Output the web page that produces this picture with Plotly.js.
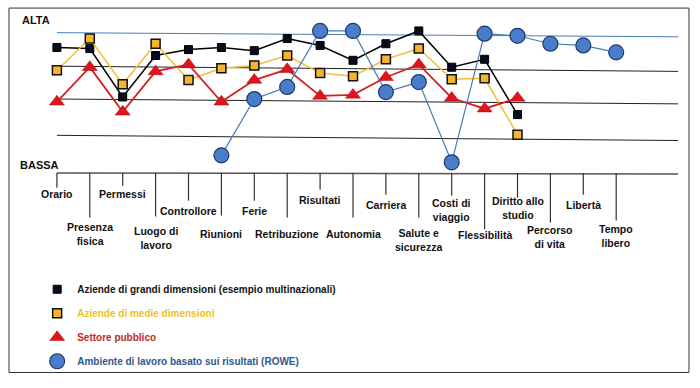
<!DOCTYPE html>
<html>
<head>
<meta charset="utf-8">
<script src="https://cdn.plot.ly/plotly-3.0.1.min.js"></script>
<style>html,body{margin:0;padding:0;background:#fff;}#chart{width:700px;height:388px;}</style>
</head>
<body>
<div id="chart"></div>
<script>
// ---- data ----
const categories = ['Orario','Presenza fisica','Permessi','Luogo di lavoro','Controllore','Riunioni','Ferie','Retribuzione','Risultati','Autonomia','Carriera','Salute e sicurezza','Costi di viaggio','Flessibilità','Diritto allo studio','Percorso di vita','Libertà','Tempo libero'];
const tickLabels = ['Orario','Presenza<br>fisica','Permessi','Luogo di<br>lavoro','Controllore','Riunioni','Ferie','Retribuzione','Risultati','Autonomia','Carriera','Salute e<br>sicurezza','Costi di<br>viaggio','Flessibilità','Diritto allo<br>studio','Percorso<br>di vita','Libertà','Tempo<br>libero'];
const seriesNames = ['Aziende di grandi dimensioni (esempio multinazionali)','Aziende di medie dimensioni','Settore pubblico','Ambiente di lavoro basato sui risultati (ROWE)'];
const grandi  = [3.63,3.60,2.20,3.40,3.57,3.63,3.54,3.89,3.69,3.26,3.74,4.11,3.06,3.29,1.69,null,null,null];
const medie   = [2.97,3.89,2.57,3.74,2.69,3.03,3.11,3.40,2.89,2.80,3.29,3.60,2.71,2.74,1.11,null,null,null];
const pubblico= [2.06,3.06,1.77,2.94,3.14,2.06,2.69,3.00,2.23,2.26,2.77,3.14,2.17,1.86,2.17,null,null,null];
const rowe    = [null,null,null,null,null,0.51,2.14,2.49,4.11,4.11,2.34,2.63,0.31,4.03,3.97,3.74,3.69,3.49];

// ---- style (label / tick drop below axis, px) ----
const labelDrop = [21,61,21,65,38,61,38,61,27,61,32,67,37,62,35,64,32,63];
const tickDrop  = [15,45,13,44,28,43,28,45,17,45,22,45,23,57,25,50,22,48];
const plotH = 161;
const FONT = 'Liberation Sans, Arial, sans-serif';

const styles = [
  {line:{color:'#000000',width:1.5}, marker:{symbol:'square',size:8,color:'#0b0b1e',line:{color:'#000',width:1}}, text:'#111111'},
  {line:{color:'#f0bf38',width:1.5}, marker:{symbol:'square',size:9,color:'#f4b630',line:{color:'#111',width:1.5}}, text:'#eec21c'},
  {line:{color:'#d42020',width:1.8}, marker:{symbol:'triangle-up',size:13,color:'#e0141c',line:{color:'#a01010',width:0.5}}, text:'#c0282a'},
  {line:{color:'#4a78b8',width:1.2}, marker:{symbol:'circle',size:15,color:'#4a7ccc',line:{color:'#1f3a68',width:1.2}}, text:'#2d5a8c'}
];
const allSeries = [grandi, medie, pubblico, rowe];

const traces = [];
allSeries.forEach((ys,k)=>{
  traces.push({type:'scatter',mode:'lines+markers',x:categories,y:ys,line:styles[k].line,marker:styles[k].marker,showlegend:false,hoverinfo:'skip',cliponaxis:false});
});
allSeries.forEach((ys,k)=>{
  traces.push({type:'scatter',mode:'markers',x:[null],y:[null],marker:styles[k].marker,
    name:'<b><span style="color:'+styles[k].text+'">'+seriesNames[k]+'</span></b>',legendgroup:'g'+k,showlegend:true});
});

const shapes = [];
// frame
shapes.push({type:'rect',xref:'paper',yref:'paper',x0:-0.0228,x1:1.0106,y0:-1.2547,y1:1.0373,line:{color:'#333',width:1},layer:'below'});
// level lines
const levels = [[4.06,3.94,'#4a7ebb'],[3.09,2.94,'#222'],[2.14,2.00,'#222'],[1.09,0.94,'#222']];
levels.forEach(l=>shapes.push({type:'line',xref:'paper',yref:'y',x0:0.050,x1:0.994,y0:l[0],y1:l[1],line:{color:l[2],width:1},layer:'below'}));
// axis line
shapes.push({type:'line',xref:'paper',yref:'paper',x0:0.050,x1:0.994,y0:0,y1:-0.006,line:{color:'#555',width:1.5},layer:'below'});
// ticks
categories.forEach((c,i)=>shapes.push({type:'line',xref:'x',yref:'paper',x0:i,x1:i,y0:0,y1:-tickDrop[i]/plotH,line:{color:'#333',width:1.2},layer:'below'}));

const annotations = [];
categories.forEach((c,i)=>annotations.push({xref:'x',yref:'paper',x:i,y:0,yshift:-labelDrop[i],yanchor:'middle',xanchor:'center',showarrow:false,text:'<b>'+tickLabels[i]+'</b>',font:{family:FONT,size:10.5,color:'#111'}}));
annotations.push({xref:'paper',yref:'paper',x:-0.006,y:0.963,xanchor:'left',yanchor:'middle',showarrow:false,text:'<b>ALTA</b>',font:{family:FONT,size:11,color:'#111'}});
annotations.push({xref:'paper',yref:'paper',x:-0.009,y:0.05,xanchor:'left',yanchor:'middle',showarrow:false,text:'<b>BASSA</b>',font:{family:FONT,size:11,color:'#111'}});

const layout = {
  width:700,height:388,
  margin:{l:24,r:18,t:14,b:213},
  paper_bgcolor:'#fff',plot_bgcolor:'rgba(0,0,0,0)',
  font:{family:FONT,size:10,color:'#111'},
  xaxis:{type:'category',range:[-1,19],showgrid:false,zeroline:false,showline:false,ticks:'',showticklabels:false,fixedrange:true},
  yaxis:{range:[0,4.6],showgrid:false,zeroline:false,showline:false,ticks:'',showticklabels:false,fixedrange:true},
  showlegend:true,
  legend:{x:0.02,y:-0.64,xanchor:'left',yanchor:'top',tracegroupgap:5,itemsizing:'trace',font:{family:FONT,size:10,color:'#111'},bgcolor:'rgba(0,0,0,0)'},
  shapes:shapes,annotations:annotations
};
Plotly.newPlot('chart',traces,layout,{displayModeBar:false,staticPlot:true});
</script>
</body>
</html>
